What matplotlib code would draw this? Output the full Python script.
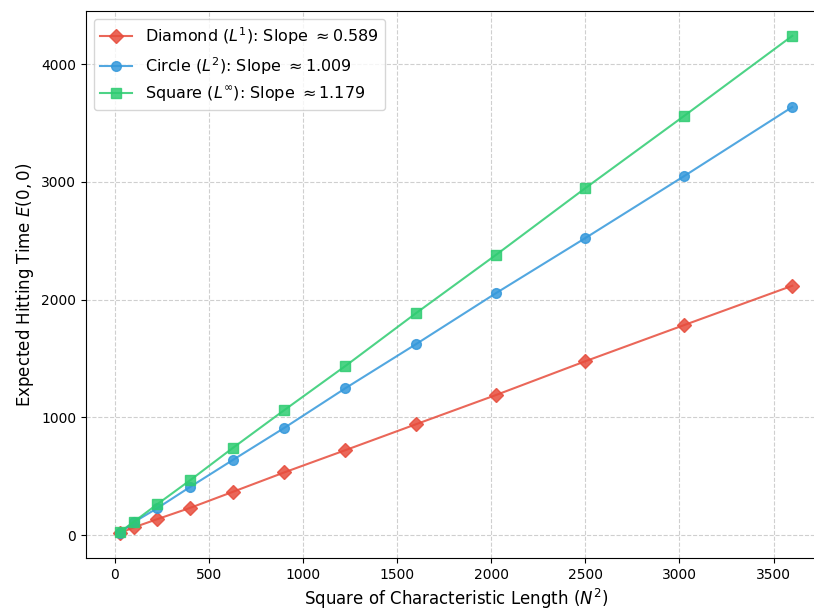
import matplotlib

matplotlib.use("Agg")
import matplotlib.pyplot as plt

# N = 5, 10, ..., 60 -> N^2
n_squared = [25, 100, 225, 400, 625, 900, 1225, 1600, 2025, 2500, 3025, 3600]

diamond = [17, 66, 136, 232, 367, 533, 722, 942, 1190, 1477, 1784, 2118]
circle = [17, 110, 229, 410, 637, 911, 1248, 1622, 2055, 2523, 3049, 3636]
square = [25, 113, 263, 467, 739, 1062, 1437, 1885, 2380, 2947, 3560, 4240]

labels = [
    r"Diamond ($L^1$): Slope $\approx 0.589$",
    r"Circle ($L^2$): Slope $\approx 1.009$",
    r"Square ($L^\infty$): Slope $\approx 1.179$",
]

fig = plt.figure(figsize=(8.14, 6.10), dpi=100)
# the reference is cropped on the right, so the axes run past the figure edge
ax = fig.add_axes([0.1057, 0.0852, 0.909, 0.8968])

ax.plot(n_squared, diamond, marker="D", ms=7, lw=1.5, color="#e74c3c", alpha=0.85, label=labels[0])
ax.plot(n_squared, circle, marker="o", ms=7, lw=1.5, color="#3498db", alpha=0.85, label=labels[1])
ax.plot(n_squared, square, marker="s", ms=7, lw=1.5, color="#2ecc71", alpha=0.85, label=labels[2])

ax.set_xlabel(r"Square of Characteristic Length ($N^2$)", fontsize=12)
ax.set_ylabel(r"Expected Hitting Time $E(0,0)$", fontsize=12)
ax.tick_params(labelsize=10)
ax.grid(True, linestyle="--", alpha=0.6)
ax.spines["right"].set_visible(False)
ax.legend(fontsize=11.5, loc="upper left")

fig.savefig("out.png", dpi=100)
